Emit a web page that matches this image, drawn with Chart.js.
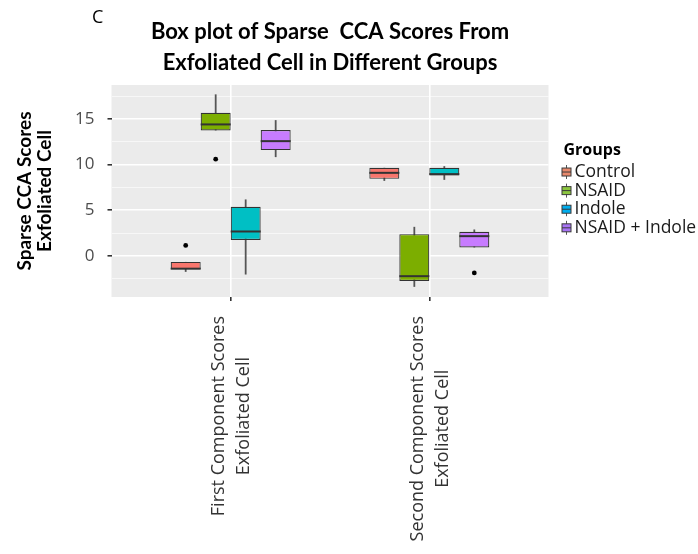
<!DOCTYPE html>
<html>
<head>
<meta charset="utf-8">
<script src="https://cdn.jsdelivr.net/npm/chart.js@4.4.1/dist/chart.umd.min.js"></script>
<style>
  html, body { margin: 0; padding: 0; background: #ffffff; }
  #wrap { width: 698px; height: 554px; }
</style>
</head>
<body>
<div id="wrap"><canvas id="boxChart" width="698" height="554"></canvas></div>
<script>
// box plot of sparse CCA scores, two components x four treatment groups

const components = [
    ['First Component Scores', 'Exfoliated Cell'],
    ['Second Component Scores', 'Exfoliated Cell']
];
const componentPos = [1, 2];

const groups = ['Control', 'NSAID', 'Indole', 'NSAID + Indole'];
const groupColors = ['#F8766D', '#7CAE00', '#00BFC4', '#C77CFF'];
const keyColors = ['#E8896C', '#8CC63F', '#00AEEF', '#A874F5'];

// per group: [first component, second component]
const q1Values      = [[-1.46, 8.43], [13.73, -2.74], [1.75, 8.81], [11.58, 0.92]];
const medianValues  = [[-1.40, 9.09], [14.39, -2.22], [2.67, 8.95], [12.56, 2.16]];
const q3Values      = [[-0.66, 9.64], [15.66, 2.38], [5.37, 9.64], [13.77, 2.63]];
const whiskerLow    = [[-1.75, 8.21], [13.73, -3.39], [-2.04, 8.32], [10.81, 0.92]];
const whiskerHigh   = [[-0.66, 9.64], [17.68, 3.18], [6.18, 9.82], [14.86, 2.89]];
const outlierValues = [[[1.14], []], [[10.59], []], [[], []], [[], [-1.86]]];

const yTickValues = [-2.5, 0, 2.5, 5, 7.5, 10, 12.5, 15, 17.5];
const yTickLabels = ['', '0', '', '5', '', '10', '', '15', ''];

const panelBackground = {
    id: 'panelBackground',
    beforeDraw(chart) {
        const { ctx, chartArea: a } = chart;
        ctx.save();
        ctx.fillStyle = '#EBEBEB';
        ctx.fillRect(a.left, a.top, a.right - a.left, a.bottom - a.top);
        ctx.restore();
    }
};

// whiskers behind the boxes, medians and outliers on top
const boxDetails = {
    id: 'boxDetails',
    beforeDatasetsDraw(chart) {
        const { ctx } = chart;
        const y = chart.scales.y;
        ctx.save();
        ctx.strokeStyle = '#555555';
        ctx.lineWidth = 1.8;
        groups.forEach((name, g) => {
            chart.getDatasetMeta(g).data.forEach((bar, i) => {
                ctx.beginPath();
                ctx.moveTo(bar.x, y.getPixelForValue(whiskerLow[g][i]));
                ctx.lineTo(bar.x, y.getPixelForValue(whiskerHigh[g][i]));
                ctx.stroke();
            });
        });
        ctx.restore();
    },
    afterDatasetsDraw(chart) {
        const { ctx } = chart;
        const y = chart.scales.y;
        ctx.save();
        groups.forEach((name, g) => {
            chart.getDatasetMeta(g).data.forEach((bar, i) => {
                const half = bar.width / 2;
                const my = y.getPixelForValue(medianValues[g][i]);
                ctx.strokeStyle = '#333333';
                ctx.lineWidth = 2;
                ctx.beginPath();
                ctx.moveTo(bar.x - half, my);
                ctx.lineTo(bar.x + half, my);
                ctx.stroke();
                ctx.fillStyle = '#000000';
                outlierValues[g][i].forEach(v => {
                    ctx.beginPath();
                    ctx.arc(bar.x, y.getPixelForValue(v), 2.4, 0, Math.PI * 2);
                    ctx.fill();
                });
            });
        });
        ctx.restore();
    }
};

// rotated two-line category labels, lines centred on each other
const componentLabels = {
    id: 'componentLabels',
    afterDraw(chart) {
        const { ctx, chartArea } = chart;
        const x = chart.scales.x;
        const lineHeight = 25;
        ctx.save();
        ctx.font = '18px "Open Sans"';
        ctx.fillStyle = '#333333';
        ctx.textAlign = 'center';
        ctx.textBaseline = 'middle';
        components.forEach((lines, i) => {
            const px = x.getPixelForValue(componentPos[i]);
            const longest = Math.max(...lines.map(l => ctx.measureText(l).width));
            ctx.save();
            ctx.translate(px, chartArea.bottom + 19);
            ctx.rotate(-Math.PI / 2);
            lines.forEach((line, k) => {
                const off = (k - (lines.length - 1) / 2) * lineHeight;
                ctx.fillText(line, -longest / 2, off + 1);
            });
            ctx.restore();
        });
        ctx.restore();
    }
};

// ggplot-style legend: small boxplot glyph per group
function drawKey(ctx, cx, cy, color) {
    ctx.strokeStyle = '#555555';
    ctx.lineWidth = 1;
    ctx.beginPath();
    ctx.moveTo(cx, cy - 7);
    ctx.lineTo(cx, cy + 7);
    ctx.stroke();
    ctx.fillStyle = color;
    ctx.fillRect(cx - 4.5, cy - 4, 9, 8);
    ctx.strokeStyle = '#3a3a3a';
    ctx.strokeRect(cx - 4.5, cy - 4, 9, 8);
    ctx.beginPath();
    ctx.moveTo(cx - 4.5, cy);
    ctx.lineTo(cx + 4.5, cy);
    ctx.stroke();
}

const groupLegend = {
    id: 'groupLegend',
    afterDraw(chart) {
        const { ctx, chartArea } = chart;
        const left = chartArea.right + 15;
        const rowHeight = 18.6;
        const top = (chartArea.top + chartArea.bottom) / 2 - 41;
        ctx.save();
        ctx.textBaseline = 'middle';
        ctx.fillStyle = '#000000';
        ctx.font = 'bold 16px "Open Sans"';
        ctx.fillText('Groups', left, top);
        ctx.font = '17.5px "Open Sans"';
        groups.forEach((name, g) => {
            const cy = top + 22 + g * rowHeight;
            drawKey(ctx, left + 3, cy, keyColors[g]);
            ctx.fillStyle = '#1a1a1a';
            ctx.fillText(name, left + 11, cy);
        });
        ctx.restore();
    }
};

const panelLetter = {
    id: 'panelLetter',
    afterDraw(chart) {
        const { ctx } = chart;
        ctx.save();
        ctx.font = '18px "Open Sans"';
        ctx.fillStyle = '#000000';
        ctx.textBaseline = 'middle';
        ctx.fillText('C', 92, 18);
        ctx.restore();
    }
};

const datasets = groups.map((name, g) => ({
    label: name,
    data: componentPos.map((pos, i) => ({ x: pos, y: [q1Values[g][i], q3Values[g][i]] })),
    backgroundColor: groupColors[g],
    borderColor: '#333333',
    borderWidth: 1.2,
    borderSkipped: false,
    categoryPercentage: 0.604,
    barPercentage: 1
}));

new Chart(document.getElementById('boxChart'), {
    type: 'bar',
    data: { datasets: datasets },
    options: {
        responsive: false,
        animation: false,
        events: [],
        layout: { padding: { left: 0, right: 0, top: 0, bottom: 253 } },
        scales: {
            x: {
                type: 'linear',
                min: 0.4,
                max: 2.6,
                offset: false,
                afterBuildTicks: scale => { scale.ticks = componentPos.map(v => ({ value: v })); },
                ticks: { display: false },
                grid: { offset: false, color: '#ffffff', lineWidth: 1.6, tickColor: '#333333', tickLength: 4, drawTicks: true },
                border: { display: false }
            },
            y: {
                type: 'linear',
                min: -4.5,
                max: 18.7,
                stacked: false,
                afterBuildTicks: scale => { scale.ticks = yTickValues.map(v => ({ value: v })); },
                afterFit: scale => { scale.width = 111.5; },
                ticks: {
                    padding: 13,
                    color: '#4d4d4d',
                    font: { family: 'Open Sans', size: 17 },
                    callback: (value, index) => yTickLabels[index]
                },
                grid: {
                    color: c => yTickLabels[c.index] ? '#ffffff' : 'rgba(255,255,255,0.85)',
                    lineWidth: c => yTickLabels[c.index] ? 1.6 : 0.7,
                    tickColor: c => yTickLabels[c.index] ? '#333333' : 'rgba(0,0,0,0)',
                    tickLength: 4
                },
                border: { display: false },
                title: {
                    display: true,
                    text: ['Sparse CCA Scores', 'Exfoliated Cell'],
                    color: '#000000',
                    font: { family: 'Lato', size: 19, weight: 'bold', lineHeight: 1.06 },
                    padding: { top: 15, bottom: 0 }
                }
            },
            // empty right-hand axis: keeps room for the legend beside the panel
            legendSpace: {
                type: 'linear',
                position: 'right',
                afterBuildTicks: scale => { scale.ticks = []; },
                afterFit: scale => { scale.width = 149.5; },
                ticks: { display: false },
                grid: { display: false },
                border: { display: false }
            }
        },
        plugins: {
            tooltip: { enabled: false },
            legend: { display: false },
            title: {
                display: true,
                fullSize: false,
                text: ['Box plot of Sparse  CCA Scores From', 'Exfoliated Cell in Different Groups'],
                color: '#000000',
                font: { family: 'Lato', size: 22, weight: 'bold', lineHeight: 1.41 },
                padding: { top: 16, bottom: 7 }
            }
        }
    },
    plugins: [panelBackground, boxDetails, componentLabels, groupLegend, panelLetter]
});
</script>
</body>
</html>
